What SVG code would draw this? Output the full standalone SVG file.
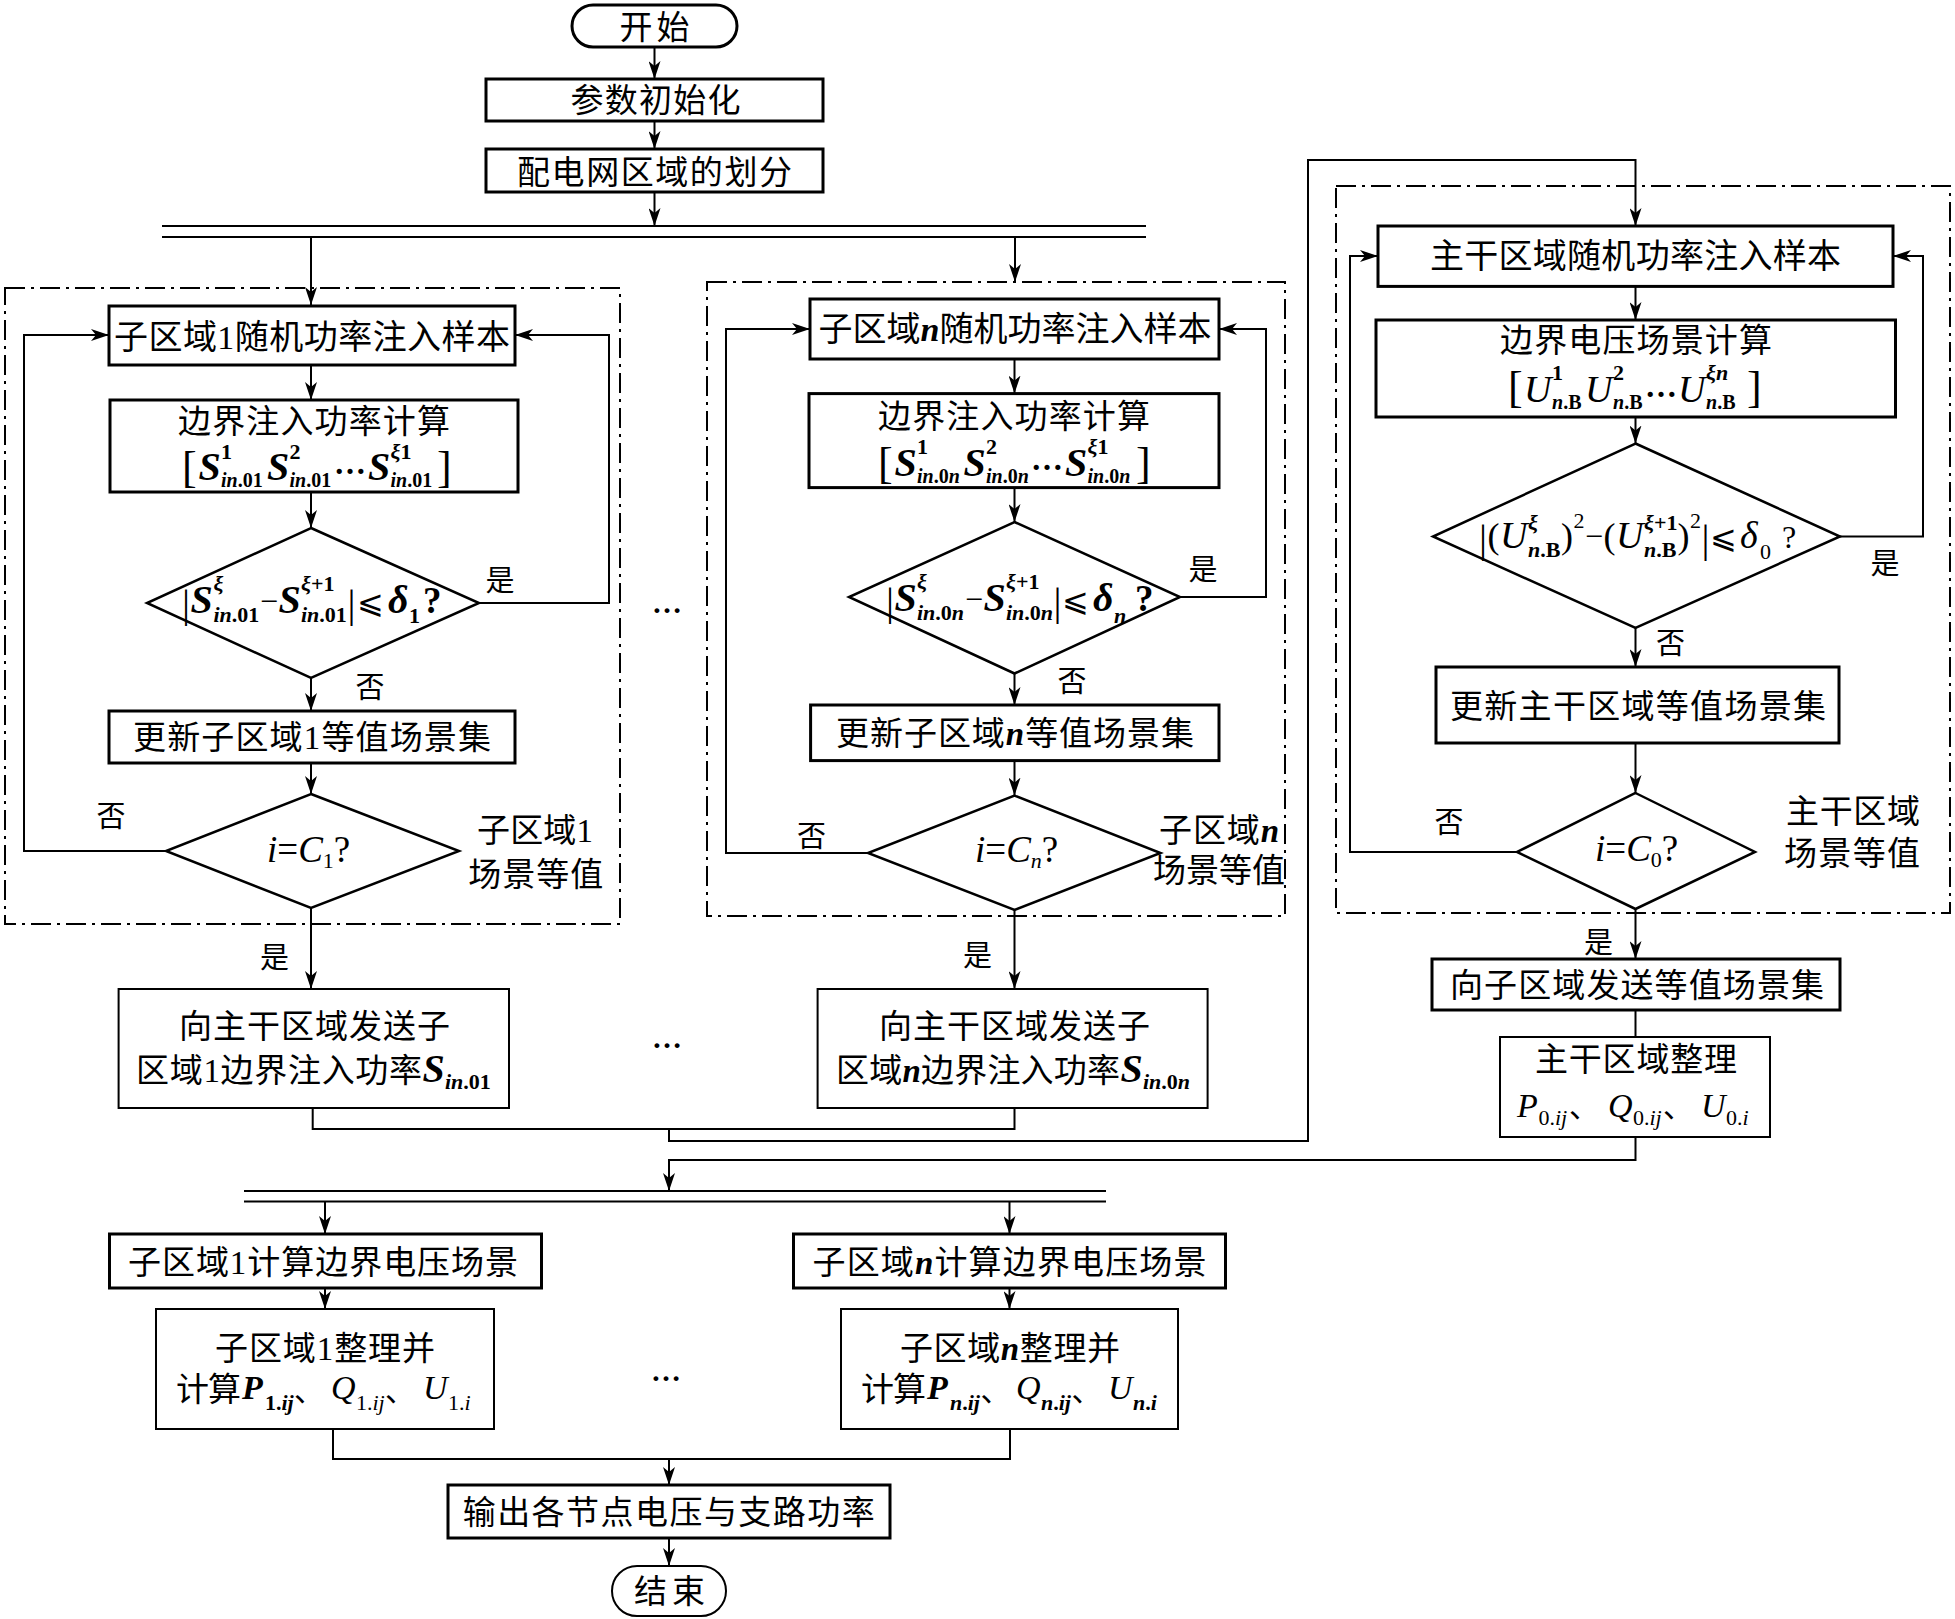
<svg xmlns="http://www.w3.org/2000/svg" width="1955" height="1619" viewBox="0 0 1955 1619">
<defs>
<marker id="ah" markerWidth="18" markerHeight="12" refX="18" refY="6" orient="auto" markerUnits="userSpaceOnUse"><path d="M0,0 L18,6 L0,12 L5,6 Z" fill="#000"/></marker>
</defs>
<style>
.b{fill:#fff;stroke:#000;stroke-width:3}
.bt{fill:#fff;stroke:#000;stroke-width:2}
.d{fill:#fff;stroke:#000;stroke-width:2.5}
.c{fill:none;stroke:#000;stroke-width:2}
.a{fill:none;stroke:#000;stroke-width:2;marker-end:url(#ah)}
.dash{fill:none;stroke:#000;stroke-width:2;stroke-dasharray:20 6 3 6}
text{font-family:'Liberation Serif','Noto Sans CJK SC',serif;fill:#000}
.t{font-size:33px;text-anchor:middle}
.ts{font-size:33px}
.l{font-size:29px;text-anchor:middle}
.it{font-style:italic;font-weight:bold}
.M{font-size:40px;font-style:italic;font-weight:bold}
.Mr{font-size:38px;font-style:italic}
.P{font-size:34px;font-style:italic}
.s{font-size:22px;font-weight:bold}
.s2{font-size:20px;font-weight:bold}
.sr{font-size:22px}
.i{font-style:italic}
.br{font-size:44px}
.op{font-size:32px}
.bar{font-size:40px}
.q{font-size:37px}
.dots{font-size:30px;font-weight:bold;text-anchor:middle}
.cm{font-size:30px}
.el{font-size:32px;font-weight:bold}
</style>
<rect width="1955" height="1619" fill="#fff"/>

<g id="regions">
<rect class="dash" x="5" y="288" width="615" height="636"/>
<rect class="dash" x="707" y="282" width="578" height="634"/>
<rect class="dash" x="1336" y="186" width="614" height="727"/>
</g>

<g id="connectors">
<path class="a" d="M654.5,47 V79"/>
<path class="a" d="M654.5,121 V149"/>
<path class="a" d="M654.5,192 V226"/>
<path class="c" d="M162,226 H1146 M162,237 H1146"/>
<path class="a" d="M311,237 V305"/>
<path class="a" d="M1015,237 V282"/>
<path class="a" d="M311,365 V400"/>
<path class="a" d="M311,492 V528"/>
<path class="a" d="M311,678 V711"/>
<path class="a" d="M311,763 V794"/>
<path class="a" d="M311,908 V989"/>
<path class="a" d="M479,603 H609 V335 H515"/>
<path class="a" d="M166,851 H24 V335 H109"/>
<path class="a" d="M1014.5,359 V393.6"/>
<path class="a" d="M1014.5,487.5 V522"/>
<path class="a" d="M1014.5,673.5 V705"/>
<path class="a" d="M1014.5,760.6 V795.6"/>
<path class="a" d="M1014.5,910 V989"/>
<path class="a" d="M1180,597 H1266 V329 H1219"/>
<path class="a" d="M868,853 H726 V329 H810"/>
<path class="a" d="M1635.5,286.4 V320"/>
<path class="a" d="M1635.5,417 V443.5"/>
<path class="a" d="M1635.5,628 V667"/>
<path class="a" d="M1635.5,743 V793"/>
<path class="a" d="M1635.5,909 V959"/>
<path class="c" d="M1635.5,1010 V1037"/>
<path class="a" d="M1840,536.5 H1923 V256 H1893"/>
<path class="a" d="M1517,852 H1350 V256 H1378"/>
<path class="c" d="M312.7,1108 V1129 H1014.5 V1108"/>
<path class="a" d="M669,1129 V1141 H1308 V160 H1635.5 V226"/>
<path class="a" d="M1635.5,1137 V1160 H669 V1191"/>
<path class="c" d="M244,1191 H1106 M244,1201.5 H1106"/>
<path class="a" d="M325,1201.5 V1234"/>
<path class="a" d="M1009.5,1201.5 V1234"/>
<path class="a" d="M325,1288 V1309"/>
<path class="a" d="M1009.5,1288 V1309"/>
<path class="c" d="M333,1429 V1459 H1010 V1429"/>
<path class="a" d="M669,1459 V1485"/>
<path class="a" d="M669,1538 V1566"/>
</g>

<g id="start">
<rect class="b" x="572" y="5" width="165" height="42" rx="21"/>
<text class="t" x="654.5" y="39" textLength="70">开始</text>
</g>
<g id="init">
<rect class="b" x="486" y="79" width="337" height="42"/>
<text class="t" x="655.6" y="112" textLength="170">参数初始化</text>
</g>
<g id="partition">
<rect class="b" x="486" y="149" width="337" height="43"/>
<text class="t" x="654.5" y="183.5" textLength="275">配电网区域的划分</text>
</g>

<!-- Subregion 1 -->
<g id="sub1_sample">
<rect class="b" x="109" y="306" width="406" height="59"/>
<text class="t" style="font-size:34px" x="312" y="349" textLength="396">子区域1随机功率注入样本</text>
</g>
<g id="sub1_boundary">
<rect class="b" x="110" y="400" width="408" height="92"/>
<text class="t" x="314" y="433" textLength="272">边界注入功率计算</text>
<text><tspan class="br" x="182" y="482">[</tspan><tspan class="M" x="198.5" y="480">S</tspan><tspan class="s" x="221" y="459">1</tspan><tspan class="s2 i" x="221" y="487">in</tspan><tspan class="s2">.01</tspan><tspan class="M" x="267" y="480">S</tspan><tspan class="s" x="289.5" y="459">2</tspan><tspan class="s2 i" x="289.5" y="487">in</tspan><tspan class="s2">.01</tspan><tspan class="el" x="334" y="474">…</tspan><tspan class="M" x="368" y="480">S</tspan><tspan class="s i" x="390.5" y="459">ξ</tspan><tspan class="s">1</tspan><tspan class="s2 i" x="390.5" y="487">in</tspan><tspan class="s2">.01</tspan><tspan class="br" x="437" y="482">]</tspan></text>
</g>
<g id="sub1_check">
<polygon class="d" points="311,528 479,603 311,678 147,603"/>
<text><tspan class="bar" x="182" y="617">|</tspan><tspan class="M" x="190.5" y="613">S</tspan><tspan class="s i" x="213.5" y="591">ξ</tspan><tspan class="s i" x="213.5" y="622">in</tspan><tspan class="s">.01</tspan><tspan class="op" x="260" y="612">−</tspan><tspan class="M" x="278.5" y="613">S</tspan><tspan class="s i" x="301" y="591">ξ</tspan><tspan class="s">+1</tspan><tspan class="s i" x="301" y="622">in</tspan><tspan class="s">.01</tspan><tspan class="bar" x="347.5" y="617">|</tspan><tspan class="op" x="357" y="613">⩽</tspan><tspan class="M" x="388" y="613">δ</tspan><tspan class="s" x="409" y="623">1</tspan><tspan class="q" style="font-weight:bold" x="423" y="613">?</tspan></text>
</g>
<g id="sub1_update">
<rect class="b" x="109" y="711" width="406" height="52"/>
<text class="t" x="312" y="749" textLength="358">更新子区域1等值场景集</text>
</g>
<g id="sub1_count">
<polygon class="d" points="311,794 459,851 311,908 166,851"/>
<text class="q" x="267" y="862"><tspan class="i">i</tspan>=<tspan class="i">C</tspan><tspan font-size="22" dy="6">1</tspan><tspan dy="-6">?</tspan></text>
</g>
<g id="sub1_label">
<text class="t" x="535" y="842" textLength="116">子区域1</text>
<text class="t" x="535.7" y="886" textLength="135">场景等值</text>
</g>
<g id="sub1_send">
<rect class="bt" x="118.6" y="989" width="390.4" height="119"/>
<text class="t" x="314.5" y="1038" textLength="271">向主干区域发送子</text>
<text><tspan class="ts" x="136" y="1082" textLength="286">区域1边界注入功率</tspan><tspan class="M" x="422.5" y="1082">S</tspan><tspan class="s i" x="445" y="1089">in</tspan><tspan class="s">.01</tspan></text>
</g>

<!-- Subregion n -->
<g id="subn_sample">
<rect class="b" x="810" y="299" width="409" height="60"/>
<text class="t" style="font-size:34px" x="1015" y="341" textLength="393">子区域<tspan class="it">n</tspan>随机功率注入样本</text>
</g>
<g id="subn_boundary">
<rect class="b" x="809" y="393.6" width="410" height="94"/>
<text class="t" x="1014" y="428" textLength="272">边界注入功率计算</text>
<text><tspan class="br" x="878" y="478">[</tspan><tspan class="M" x="894.5" y="476">S</tspan><tspan class="s" x="917" y="454">1</tspan><tspan class="s2 i" x="917" y="483">in</tspan><tspan class="s2">.0</tspan><tspan class="s2 i">n</tspan><tspan class="M" x="963.5" y="476">S</tspan><tspan class="s" x="986" y="454">2</tspan><tspan class="s2 i" x="986" y="483">in</tspan><tspan class="s2">.0</tspan><tspan class="s2 i">n</tspan><tspan class="el" x="1031" y="470">…</tspan><tspan class="M" x="1065" y="476">S</tspan><tspan class="s i" x="1087.5" y="454">ξ</tspan><tspan class="s">1</tspan><tspan class="s2 i" x="1087.5" y="483">in</tspan><tspan class="s2">.0</tspan><tspan class="s2 i">n</tspan><tspan class="br" x="1136" y="478">]</tspan></text>
</g>
<g id="subn_check">
<polygon class="d" points="1014.5,522 1180,597 1014.5,673.5 849,597"/>
<text><tspan class="bar" x="886" y="615">|</tspan><tspan class="M" x="894.5" y="611">S</tspan><tspan class="s i" x="917" y="589">ξ</tspan><tspan class="s i" x="917" y="620">in</tspan><tspan class="s">.0</tspan><tspan class="s i">n</tspan><tspan class="op" x="965" y="610">−</tspan><tspan class="M" x="983.5" y="611">S</tspan><tspan class="s i" x="1006" y="589">ξ</tspan><tspan class="s">+1</tspan><tspan class="s i" x="1006" y="620">in</tspan><tspan class="s">.0</tspan><tspan class="s i">n</tspan><tspan class="bar" x="1053.5" y="615">|</tspan><tspan class="op" x="1062" y="611">⩽</tspan><tspan class="M" x="1093" y="611">δ</tspan><tspan class="s i" x="1114" y="623">n</tspan><tspan class="q" style="font-weight:bold" x="1135" y="611">?</tspan></text>
</g>
<g id="subn_update">
<rect class="b" x="810.6" y="705" width="408.4" height="55.6"/>
<text class="t" x="1015" y="745" textLength="358">更新子区域<tspan class="it">n</tspan>等值场景集</text>
</g>
<g id="subn_count">
<polygon class="d" points="1014.5,795.6 1160.5,853 1014.5,910 868,853"/>
<text class="q" x="975" y="862"><tspan class="i">i</tspan>=<tspan class="i">C</tspan><tspan class="i" font-size="22" dy="6">n</tspan><tspan dy="-6">?</tspan></text>
</g>
<g id="subn_label">
<text class="t" x="1219" y="842" textLength="120">子区域<tspan class="it">n</tspan></text>
<text class="t" x="1219" y="882" textLength="132">场景等值</text>
</g>
<g id="subn_send">
<rect class="bt" x="817.6" y="989" width="390" height="119"/>
<text class="t" x="1014.5" y="1038" textLength="271">向主干区域发送子</text>
<text><tspan class="ts" x="836" y="1082" textLength="284">区域<tspan class="it">n</tspan>边界注入功率</tspan><tspan class="M" x="1120.5" y="1082">S</tspan><tspan class="s i" x="1143" y="1089">in</tspan><tspan class="s">.0</tspan><tspan class="s i">n</tspan></text>
</g>

<!-- Main trunk -->
<g id="main_sample">
<rect class="b" x="1378" y="226" width="515" height="60.4"/>
<text class="t" style="font-size:34px" x="1635.5" y="268" textLength="411">主干区域随机功率注入样本</text>
</g>
<g id="main_boundary">
<rect class="b" x="1376" y="320" width="519.5" height="97"/>
<text class="t" x="1636" y="352" textLength="272">边界电压场景计算</text>
<text><tspan class="br" x="1508" y="402">[</tspan><tspan class="Mr" x="1524" y="402">U</tspan><tspan class="s" x="1552" y="380">1</tspan><tspan class="s2 i" x="1552" y="409">n</tspan><tspan class="s2">.B</tspan><tspan class="Mr" x="1585" y="402">U</tspan><tspan class="s" x="1613" y="380">2</tspan><tspan class="s2 i" x="1613" y="409">n</tspan><tspan class="s2">.B</tspan><tspan class="el" x="1645" y="397">…</tspan><tspan class="Mr" x="1678" y="402">U</tspan><tspan class="s i" x="1706" y="380">ξn</tspan><tspan class="s2 i" x="1706" y="409">n</tspan><tspan class="s2">.B</tspan><tspan class="br" x="1747" y="402">]</tspan></text>
</g>
<g id="main_check">
<polygon class="d" points="1635.5,443.5 1840,536.5 1635.5,628 1433,536.5"/>
<text><tspan class="bar" x="1479" y="552">|</tspan><tspan class="op" style="font-size:36px" x="1487.5" y="548">(</tspan><tspan class="Mr" x="1500" y="548">U</tspan><tspan class="s i" x="1528" y="530">ξ</tspan><tspan class="s i" x="1528" y="557">n</tspan><tspan class="s">.B</tspan><tspan class="op" style="font-size:36px" x="1561" y="548">)</tspan><tspan class="sr" x="1573.5" y="528">2</tspan><tspan class="op" x="1585" y="547">−</tspan><tspan class="op" style="font-size:36px" x="1603.5" y="548">(</tspan><tspan class="Mr" x="1616" y="548">U</tspan><tspan class="s i" x="1644" y="530">ξ</tspan><tspan class="s">+1</tspan><tspan class="s i" x="1644" y="557">n</tspan><tspan class="s">.B</tspan><tspan class="op" style="font-size:36px" x="1677.5" y="548">)</tspan><tspan class="sr" x="1690" y="528">2</tspan><tspan class="bar" x="1701.5" y="552">|</tspan><tspan class="op" x="1710" y="548">⩽</tspan><tspan class="Mr" x="1740" y="548">δ</tspan><tspan class="sr" x="1760" y="559">0</tspan><tspan class="op" x="1782" y="548">?</tspan></text>
</g>
<g id="main_update">
<rect class="b" x="1436" y="667" width="403" height="76"/>
<text class="t" x="1638" y="718" textLength="376">更新主干区域等值场景集</text>
</g>
<g id="main_count">
<polygon class="d" points="1635.5,793 1755,852 1635.5,909 1517,852"/>
<text class="q" x="1595" y="861"><tspan class="i">i</tspan>=<tspan class="i">C</tspan><tspan font-size="22" dy="6">0</tspan><tspan dy="-6">?</tspan></text>
</g>
<g id="main_label">
<text class="t" x="1853" y="823" textLength="134">主干区域</text>
<text class="t" x="1852" y="865" textLength="136">场景等值</text>
</g>
<g id="main_send">
<rect class="b" x="1432" y="959" width="408" height="51"/>
<text class="t" x="1637" y="997" textLength="374">向子区域发送等值场景集</text>
</g>
<g id="main_tidy">
<rect class="bt" x="1500" y="1037" width="270" height="100"/>
<text class="t" x="1636" y="1071" textLength="202">主干区域整理</text>
<text><tspan class="P" x="1517" y="1117">P</tspan><tspan class="sr" x="1538.5" y="1125">0.</tspan><tspan class="sr i">ij</tspan><tspan class="cm" x="1569" y="1117">、</tspan><tspan class="P" x="1608" y="1117">Q</tspan><tspan class="sr" x="1633" y="1125">0.</tspan><tspan class="sr i">ij</tspan><tspan class="cm" x="1663" y="1117">、</tspan><tspan class="P" x="1701" y="1117">U</tspan><tspan class="sr" x="1726" y="1125">0.</tspan><tspan class="sr i">i</tspan></text>
</g>

<!-- Bottom section -->
<g id="sub1_voltage">
<rect class="b" x="109.5" y="1234" width="432" height="54"/>
<text class="t" x="323" y="1274" textLength="390">子区域1计算边界电压场景</text>
</g>
<g id="subn_voltage">
<rect class="b" x="793.5" y="1234" width="432" height="54"/>
<text class="t" x="1009.5" y="1274" textLength="394">子区域<tspan class="it">n</tspan>计算边界电压场景</text>
</g>
<g id="sub1_tidy">
<rect class="bt" x="156" y="1309" width="338" height="120"/>
<text class="t" x="325" y="1360" textLength="220">子区域1整理并</text>
<text><tspan class="ts" x="176" y="1401" textLength="65">计算</tspan><tspan class="P" style="font-weight:bold" x="242" y="1399">P</tspan><tspan class="s" x="265" y="1410">1.</tspan><tspan class="s i">ij</tspan><tspan class="cm" x="294" y="1401">、</tspan><tspan class="P" x="331" y="1399">Q</tspan><tspan class="sr" x="356" y="1410">1.</tspan><tspan class="sr i">ij</tspan><tspan class="cm" x="385" y="1401">、</tspan><tspan class="P" x="423" y="1399">U</tspan><tspan class="sr" x="448" y="1410">1.</tspan><tspan class="sr i">i</tspan></text>
</g>
<g id="subn_tidy">
<rect class="bt" x="841" y="1309" width="337" height="120"/>
<text class="t" x="1010" y="1360" textLength="220">子区域<tspan class="it">n</tspan>整理并</text>
<text><tspan class="ts" x="861" y="1401" textLength="65">计算</tspan><tspan class="P" style="font-weight:bold" x="927" y="1399">P</tspan><tspan class="s i" x="950" y="1410">n</tspan><tspan class="s">.</tspan><tspan class="s i">ij</tspan><tspan class="cm" x="980.5" y="1401">、</tspan><tspan class="P" x="1016" y="1399">Q</tspan><tspan class="s i" x="1041" y="1410">n</tspan><tspan class="s">.</tspan><tspan class="s i">ij</tspan><tspan class="cm" x="1071.5" y="1401">、</tspan><tspan class="P" x="1108" y="1399">U</tspan><tspan class="s i" x="1133" y="1410">n</tspan><tspan class="s">.</tspan><tspan class="s i">i</tspan></text>
</g>
<g id="output">
<rect class="b" x="448" y="1485" width="442" height="53"/>
<text class="t" x="668.7" y="1523.5" textLength="412">输出各节点电压与支路功率</text>
</g>
<g id="end">
<rect class="bt" x="612" y="1566" width="114" height="50" rx="25"/>
<text class="t" x="669.5" y="1602.5" textLength="71">结束</text>
</g>

<g id="labels">
<text class="l" x="500" y="591">是</text>
<text class="l" x="370" y="698">否</text>
<text class="l" x="111" y="827">否</text>
<text class="l" x="1203" y="580">是</text>
<text class="l" x="1072" y="692">否</text>
<text class="l" x="811.6" y="847">否</text>
<text class="l" x="1885" y="574">是</text>
<text class="l" x="1670.6" y="654">否</text>
<text class="l" x="1449" y="833">否</text>
<text class="l" x="1598.5" y="953">是</text>
<text class="l" x="274.6" y="968">是</text>
<text class="l" x="977.6" y="966">是</text>
<text class="dots" x="667" y="613">…</text>
<text class="dots" x="667" y="1048">…</text>
<text class="dots" x="666" y="1381">…</text>
</g>
</svg>
